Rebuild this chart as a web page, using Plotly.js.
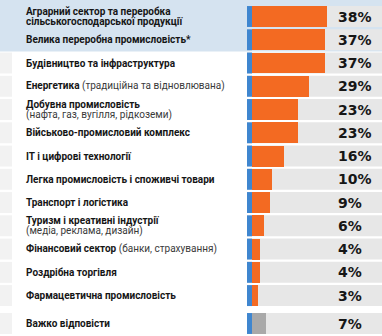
<!DOCTYPE html>
<html><head><meta charset="utf-8">
<script src="https://cdn.plot.ly/plotly-3.0.1.min.js"></script>
<style>html,body{margin:0;padding:0;background:#fff}#c{width:382px;height:336px}</style>
</head><body><div id="c"></div>
<script>
const labelsBold = [
  "Аграрний сектор та переробка\nсільськогосподарської продукції",
  "Велика переробна промисловість*",
  "Будівництво та інфраструктура",
  "Енергетика",
  "Добувна промисловість",
  "Військово-промисловий комплекс",
  "IT і цифрові технології",
  "Легка промисловість і споживчі товари",
  "Транспорт і логістика",
  "Туризм і креативні індустрії",
  "Фінансовий сектор",
  "Роздрібна торгівля",
  "Фармацевтична промисловість",
  "Важко відповісти"
];
const labelsNormal = [
  "", "", "", " (традиційна та відновлювана)", "\n(нафта, газ, вугілля, рідкоземи)",
  "", "", "", "", "\n(медіа, реклама, дизайн)", " (банки, страхування)", "", "", ""
];
const values = [38, 37, 37, 29, 23, 23, 16, 10, 9, 6, 4, 4, 3, 7];
const valueLabels = values.map(v => v + "%");
const highlightedRows = 2;
const noAnswerIndex = 13;

const ORANGE = "#f36a22", GREY = "#a9a9a9", BLUE = "#3f86cf", TRACK = "#e7e7e7", BAND = "#d5e3f0", STRIP = "#f2f2f2";

// layout geometry (pixels -> axis units)
const W = 382, H = 336;
const pxPerUnit = 1.98;
const zeroPx = 252;
const xMin = -zeroPx / pxPerUnit, xMax = (W - zeroPx) / pxPerUnit;
const trackStart = (247 - zeroPx) / pxPerUnit;
const labelX = (25 - zeroPx) / pxPerUnit;
const pctX = (336 - zeroPx) / pxPerUnit;
const stripEnd = xMin + 12 / pxPerUnit;

const pos = values.map((v, i) => i + (i === noAnswerIndex ? 0.2 : 0));
const rowPx = 23.25;
const yTop = -16.5 / rowPx;
const yBot = pos[noAnswerIndex] + (H - 323.5) / rowPx;
const bw = 0.9;

const shapes = [];
shapes.push({type: "rect", layer: "below", xref: "x", yref: "y", x0: xMin, x1: xMax,
  y0: yTop, y1: (pos[highlightedRows - 1] + pos[highlightedRows]) / 2, fillcolor: BAND, line: {width: 0}});
pos.forEach((p, i) => {
  shapes.push({type: "rect", layer: "below", x0: trackStart, x1: xMax, y0: p - bw / 2, y1: p + bw / 2,
    fillcolor: TRACK, line: {width: 0}});
  if (i >= highlightedRows) {
    shapes.push({type: "rect", layer: "below", x0: xMin, x1: stripEnd, y0: p - bw / 2, y1: p + bw / 2,
      fillcolor: STRIP, line: {width: 0}});
  }
  shapes.push({type: "rect", layer: "above", x0: trackStart, x1: 0, y0: p - bw / 2, y1: p + bw / 2,
    fillcolor: BLUE, line: {width: 0}});
});

const annotations = [];
const lh = 10;
labelsBold.forEach((b, i) => {
  const bl = b.split("\n"), nl = labelsNormal[i].split("\n");
  const lines = bl.map(s => "<b>" + s + "</b>");
  if (nl[0]) lines[lines.length - 1] += "<span style='color:#3a3a3a'>" + nl[0] + "</span>";
  nl.slice(1).forEach(s => lines.push("<span style='color:#3a3a3a'>" + s + "</span>"));
  const n = lines.length;
  lines.forEach((t, k) => {
    annotations.push({x: labelX, y: pos[i], xref: "x", yref: "y", text: t, showarrow: false,
      xanchor: "left", yanchor: "middle", yshift: ((n - 1) / 2 - k) * lh, borderpad: 0,
      font: {family: "Roboto, 'Noto Sans', sans-serif", size: 10, color: "#161616"}});
  });
  annotations.push({x: pctX, y: pos[i], xref: "x", yref: "y", text: "<b>" + valueLabels[i] + "</b>",
    showarrow: false, xanchor: "left", yanchor: "middle",
    font: {family: "'DejaVu Sans', Verdana, sans-serif", size: 14, color: "#161616"}});
});

const trace = {
  type: "bar", orientation: "h", x: values, y: pos, width: bw,
  marker: {color: values.map((v, i) => i === noAnswerIndex ? GREY : ORANGE), line: {width: 0}},
  hoverinfo: "skip"
};

Plotly.newPlot("c", [trace], {
  width: W, height: H, margin: {l: 0, r: 0, t: 0, b: 0},
  paper_bgcolor: "#fff", plot_bgcolor: "#fff", showlegend: false,
  xaxis: {range: [xMin, xMax], visible: false, fixedrange: true},
  yaxis: {range: [yBot, yTop], visible: false, fixedrange: true},
  shapes: shapes, annotations: annotations, bargap: 0
}, {staticPlot: true, displayModeBar: false});
</script></body></html>
